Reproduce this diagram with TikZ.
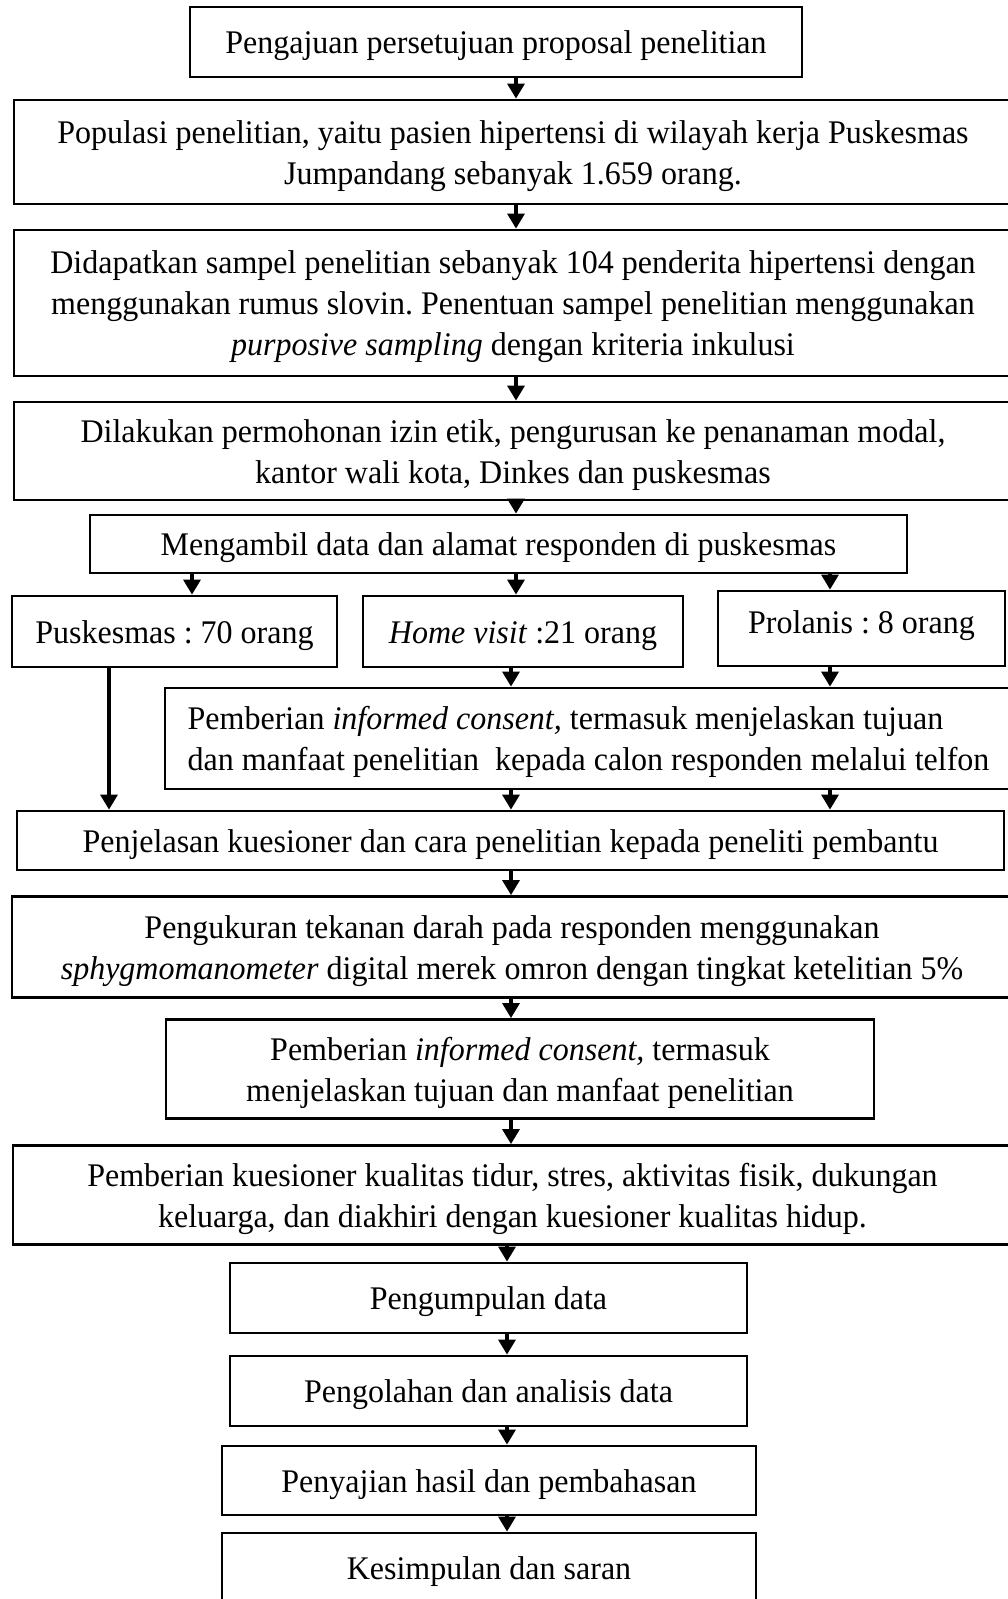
\documentclass[tikz,border=0pt]{standalone}
\usepackage{fontspec}
\setmainfont[FakeStretch=0.97]{Liberation Serif}
\usetikzlibrary{arrows.meta}
\newcommand\tup{\rule{0pt}{31pt}}
\begin{document}
\frenchspacing
\begin{tikzpicture}[x=1pt,y=-1pt,
  box/.style={draw, line width=2.8pt, inner sep=0pt, align=center, font=\fontsize{33}{41}\selectfont\frenchspacing},
  txt/.style={inner sep=0pt, font=\fontsize{33}{41}\selectfont\frenchspacing},
  arr/.style={line width=3.2pt, -{Triangle[length=15pt,width=17pt]}}]
\useasboundingbox (0,0) rectangle (1008,1599);
\clip (0,0) rectangle (1008,1599);
% column coordinates
\coordinate (cL) at (109,0);
\coordinate (cA) at (192,0);
\coordinate (cM) at (516,0);
\coordinate (cM2) at (511,0);
\coordinate (cN) at (507,0);
\coordinate (cR) at (830,0);
% boxes
\node[box, minimum width=612pt, minimum height=70pt] (b1) at (496,42) {\tup Pengajuan persetujuan proposal penelitian};
\node[box, minimum width=998pt, minimum height=104pt] (b2) at (513,152) {\tup Populasi penelitian, yaitu pasien hipertensi di wilayah kerja Puskesmas\\Jumpandang sebanyak 1.659 orang.};
\node[box, minimum width=998pt, minimum height=146pt] (b3) at (513,303) {\tup Didapatkan sampel penelitian sebanyak 104 penderita hipertensi dengan\\menggunakan rumus slovin. Penentuan sampel penelitian menggunakan\\\textit{purposive sampling} dengan kriteria inkulusi};
\node[box, minimum width=998pt, minimum height=98pt] (b4) at (513,451) {\tup Dilakukan permohonan izin etik, pengurusan ke penanaman modal,\\kantor wali kota, Dinkes dan puskesmas};
\node[box, minimum width=817pt, minimum height=58pt] (b5) at (498.5,544) {\tup Mengambil data dan alamat responden di puskesmas};
\node[box, minimum width=325pt, minimum height=71pt] (p1) at (174.5,631.5) {\tup Puskesmas : 70 orang};
\node[box, minimum width=320pt, minimum height=71pt] (p2) at (523,631.5) {\tup\textit{Home visit} :21 orang};
\node[box, minimum width=287pt, minimum height=75pt] (p3) at (861.5,628.5) {};
\node[txt] (p3t) at (861.5,622) {\tup Prolanis : 8 orang};
\node[box, minimum width=847pt, minimum height=101pt, align=left] (b7) at (588.5,738.5) {\tup Pemberian \textit{informed consent,} termasuk menjelaskan tujuan\\dan manfaat penelitian\ \ kepada calon responden melalui telfon};
\node[box, minimum width=987pt, minimum height=59pt] (b8) at (510.5,840.5) {\tup Penjelasan kuesioner dan cara penelitian kepada peneliti pembantu};
\node[box, minimum width=1000pt, minimum height=101pt] (b9) at (512,947) {\tup Pengukuran tekanan darah pada responden menggunakan\\\textit{sphygmomanometer} digital merek omron dengan tingkat ketelitian 5\%};
\node[box, minimum width=708pt, minimum height=99pt] (b10) at (520,1069) {\tup Pemberian \textit{informed consent,} termasuk\\menjelaskan tujuan dan manfaat penelitian};
\node[box, minimum width=999pt, minimum height=99pt] (b11) at (512.5,1195) {\tup Pemberian kuesioner kualitas tidur, stres, aktivitas fisik, dukungan\\keluarga, dan diakhiri dengan kuesioner kualitas hidup.};
\node[box, minimum width=517pt, minimum height=70pt] (b12) at (488.5,1298) {\tup Pengumpulan data};
\node[box, minimum width=517pt, minimum height=70pt] (b13) at (488.5,1391) {\tup Pengolahan dan analisis data};
\node[box, minimum width=534pt, minimum height=69pt] (b14) at (489,1480.5) {\tup Penyajian hasil dan pembahasan};
\node[box, minimum width=534pt, minimum height=69pt] (b15) at (489,1567.5) {\tup Kesimpulan dan saran};
% arrows
\draw[arr] (b1.south -| cM) -- (b2.north -| cM);
\draw[arr] (b2.south -| cM) -- (b3.north -| cM);
\draw[arr] (b3.south -| cM) -- (b4.north -| cM);
\draw[arr] (b4.south -| cM) -- (b5.north -| cM);
\draw[arr] (b5.south -| cA) -- (p1.north -| cA);
\draw[arr] (b5.south -| cM) -- (p2.north -| cM);
\draw[arr] (b5.south -| cR) -- (p3.north -| cR);
\draw[arr] (p2.south -| cM2) -- (b7.north -| cM2);
\draw[arr] (p3.south -| cR) -- (b7.north -| cR);
\draw[arr] (p1.south -| cL) -- (b8.north -| cL);
\draw[arr] (b7.south -| cM2) -- (b8.north -| cM2);
\draw[arr] (b7.south -| cR) -- (b8.north -| cR);
\draw[arr] (b8.south -| cM2) -- (b9.north -| cM2);
\draw[arr] (b9.south -| cM2) -- (b10.north -| cM2);
\draw[arr] (b10.south -| cM2) -- (b11.north -| cM2);
\draw[arr] (b11.south -| cN) -- (b12.north -| cN);
\draw[arr] (b12.south -| cN) -- (b13.north -| cN);
\draw[arr] (b13.south -| cN) -- (b14.north -| cN);
\draw[arr] (b14.south -| cN) -- (b15.north -| cN);
\end{tikzpicture}
\end{document}
